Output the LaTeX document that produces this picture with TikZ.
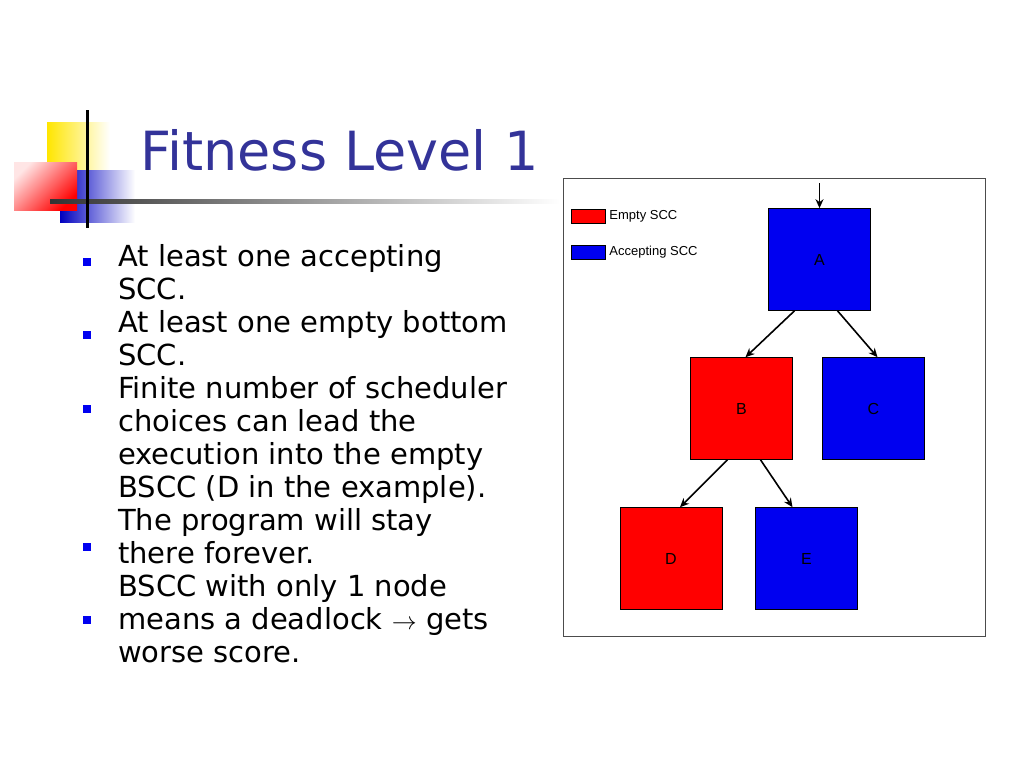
\documentclass[tikz,border=0pt]{standalone}
\usepackage{fontspec}
\setmainfont{DejaVu Sans}
\newfontfamily\legendfont{Liberation Sans}
\usetikzlibrary{arrows.meta, positioning}
\definecolor{titleblue}{RGB}{51,51,153}
\definecolor{sccred}{RGB}{255,0,0}
\definecolor{sccblue}{RGB}{0,0,240}
\tikzset{sccnode/.style={draw=black, line width=0.6pt, minimum size=102pt, inner sep=0pt, font=\legendfont\fontsize{16pt}{18pt}\selectfont},
bulletmark/.style={fill=sccblue, minimum size=8pt, inner sep=0pt},
bullettext/.style={anchor=north west, align=left, inner sep=0pt, font=\fontsize{29pt}{33pt}\selectfont}}

\begin{document}
\begin{tikzpicture}[x=1pt, y=-1pt,
                sccarrow/.style={-{Stealth[length=9pt,width=8pt]}, line width=1.6pt}
            ]
                \useasboundingbox (0,0) rectangle (1024,768);

                % Logo
                \shade[left color=yellow!80!orange, right color=white] (47,122) rectangle (110,170);
                \shade[left color=sccblue!80!black, right color=white] (60,170) rectangle (135,222);
                \shade[left color=red!10, right color=red, shading angle=45] (14,162) rectangle (77,210);
                \shade[left color=black!80, right color=white] (50,199) rectangle (560,203);
                \draw[line width=3pt] (87,110) -- (87,228);

                % Title
                \node[anchor=base west, text=titleblue, font=\fontsize{54pt}{60pt}\selectfont, inner sep=0pt] (title) at (140,170) {Fitness Level 1};

                % Bullets
                \foreach \y/\n in {262/b1, 335/b2, 409/b3, 547/b4, 620/b5} {
\node[bulletmark] (\n) at (87,\y) {};
}
                \node[bullettext] (t1) at (118,244) {At least one accepting\\SCC.\\At least one empty bottom\\SCC.\\Finite number of scheduler\\choices can lead the\\execution into the empty\\BSCC (D in the example).\\The program will stay\\there forever.\\BSCC with only 1 node\\means a deadlock $\rightarrow$ gets\\worse score.};

                % Diagram frame and legend
                \draw[black!70, line width=0.8pt] (563,178) rectangle (985,636);
                \node[draw=black, fill=sccred, minimum width=34pt, minimum height=14pt, inner sep=0pt] (emptykey) at (588,216) {};
                \node[right=4pt of emptykey.east, anchor=west, inner sep=0pt, font=\legendfont\fontsize{13pt}{15pt}\selectfont] (emptytext) {Empty SCC};
                \node[draw=black, fill=sccblue, minimum width=34pt, minimum height=14pt, inner sep=0pt] (acckey) at (588,252) {};
                \node[right=4pt of acckey.east, anchor=west, inner sep=0pt, font=\legendfont\fontsize{13pt}{15pt}\selectfont] (acctext) {Accepting SCC};

                % Nodes
                \node[sccnode, fill=sccblue] (A) at (819.5,259.5) {A};
                \node[sccnode, fill=sccred] (B) at (741.5,408.5) {B};
                \node[sccnode, fill=sccblue] (C) at (873.5,408.5) {C};
                \node[sccnode, fill=sccred] (D) at (671,558.5) {D};
                \node[sccnode, fill=sccblue] (E) at (806.5,558.5) {E};
                \coordinate (start) at (819.5,183);

                % Edges
                \draw[sccarrow] (start) -- (A.north);
                \draw[sccarrow] ([xshift=-25pt]A.south) -- ([xshift=4pt]B.north);
                \draw[sccarrow] ([xshift=18pt]A.south) -- ([xshift=4pt]C.north);
                \draw[sccarrow] ([xshift=-14pt]B.south) -- ([xshift=9pt]D.north);
                \draw[sccarrow] ([xshift=19pt]B.south) -- ([xshift=-14pt]E.north);
            \end{tikzpicture}
\end{document}
